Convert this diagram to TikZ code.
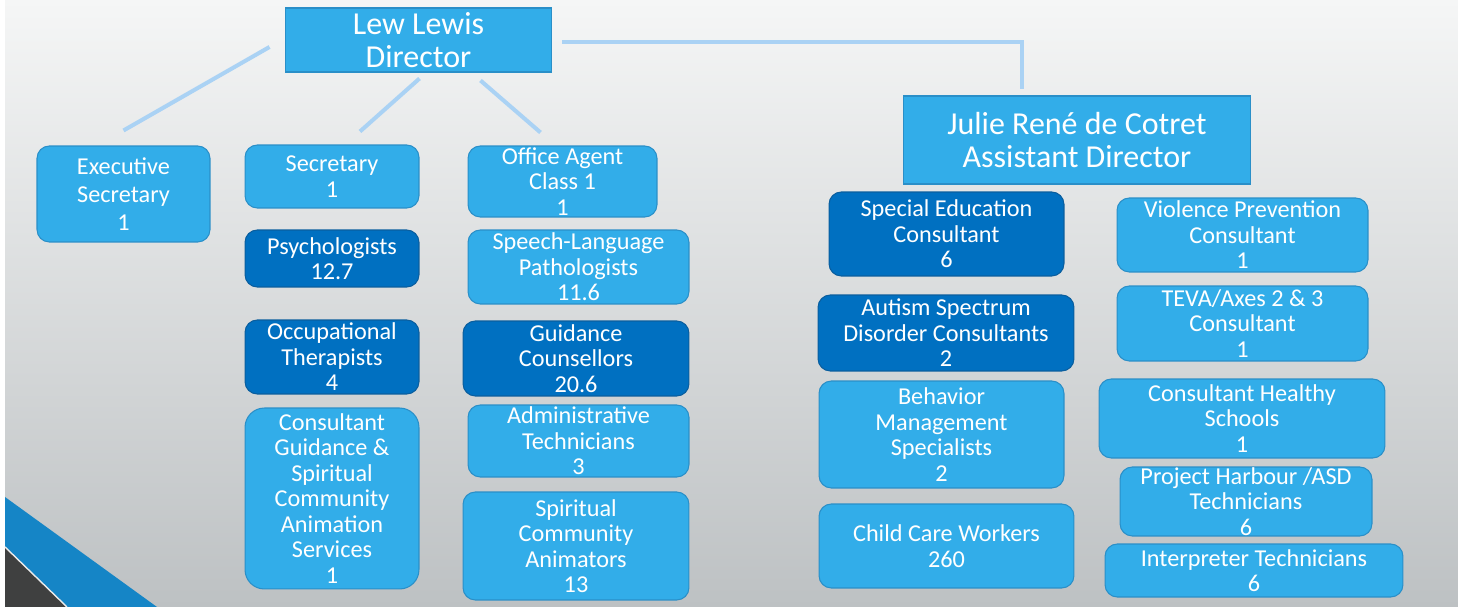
\documentclass[tikz,border=0pt]{standalone}
\usepackage{fontspec}
\setmainfont{Carlito}
\usetikzlibrary{calc}

\definecolor{boxblue}{HTML}{32ADE9}
\definecolor{boxdark}{HTML}{0070C1}
\definecolor{edgeblue}{HTML}{2A8FC8}
\definecolor{edgedark}{HTML}{0A5E9E}
\definecolor{linkblue}{HTML}{AAD2F4}
\definecolor{bgtop}{HTML}{F5F6F6}
\definecolor{bgbot}{HTML}{BDC1C3}
\definecolor{bandblue}{HTML}{1585C6}
\definecolor{cornergray}{HTML}{3F4040}

\tikzset{
    boxsize/.style 2 args = {minimum width=#1*0.569pt, minimum height=#2*0.569pt},
    staff/.style = {draw=edgeblue, fill=boxblue, text=white, rounded corners=7pt,
                    align=center, inner sep=0pt, line width=0.6pt,
                    font=\fontsize{13.8}{14.5}\selectfont},
    lead/.style  = {staff, fill=boxdark, draw=edgedark},
    head/.style  = {staff, rounded corners=0pt, font=\fontsize{18.2}{19.2}\selectfont},
    link/.style  = {draw=linkblue, line width=2.3pt},
}

\begin{document}
\begin{tikzpicture}[x=0.02cm, y=-0.02cm]
    \useasboundingbox (0,0) rectangle (1458,607);

    % Slide background
    \fill[white] (0,0) rectangle (1458,607);
    \shade[top color=bgtop, bottom color=bgbot] (5,0) rectangle (1458,607);
    \fill[bandblue] (5,497) -- (157,607) -- (5,607) -- cycle;
    \fill[cornergray] (5,547) -- (67,607) -- (5,607) -- cycle;
    \draw[white!85!gray, line width=0.8pt] (5,547) -- (67,607);

    % Heads
    \node[head, boxsize={267}{64}] (director) at (418.5,40)  {Lew Lewis\\Director};
    \node[head, boxsize={348}{88}] (assist)   at (1077,140)  {Julie René de Cotret\\Assistant Director};

    % Director's staff
    \node[staff, boxsize={173}{96}, font=\fontsize{13.8}{16}\selectfont]
                                     (exsec)     at (123.5,194)  {Executive\\Secretary\\1};
    \node[staff, boxsize={174}{63}]  (secr)      at (332,176.5)  {Secretary\\1};
    \node[lead,  boxsize={174}{57}]  (psych)     at (332,258.5)  {Psychologists\\12.7};
    \node[lead,  boxsize={174}{74}]  (occup)     at (332,357)    {Occupational\\Therapists\\4};
    \node[staff, boxsize={174}{181}, rounded corners=11pt]
                                     (cgsc)      at (332,498.5)  {Consultant\\Guidance \&\\Spiritual\\Community\\Animation\\Services\\1};
    \node[staff, boxsize={189}{71}]  (office)    at (562.5,181.5) {Office Agent\\Class 1\\1};
    \node[staff, boxsize={221}{74}]  (speech)    at (578.5,267)  {Speech-Language\\Pathologists\\11.6};
    \node[lead,  boxsize={226}{75}]  (guide)     at (576,358.5)  {Guidance\\Counsellors\\20.6};
    \node[staff, boxsize={221}{72}]  (admin)     at (578.5,441)  {Administrative\\Technicians\\3};
    \node[staff, boxsize={226}{108}] (animators) at (576,546)    {Spiritual\\Community\\Animators\\13};

    % Assistant director's staff
    \node[lead,  boxsize={235}{84}]  (speced)    at (946.5,234)  {Special Education\\Consultant\\6};
    \node[lead,  boxsize={256}{76}]  (autism)    at (946,333)    {Autism Spectrum\\Disorder Consultants\\2};
    \node[staff, boxsize={245}{107}] (behav)     at (941.5,434.5) {Behavior\\Management\\Specialists\\2};
    \node[staff, boxsize={255}{84}]  (childcare) at (946.5,546)  {Child Care Workers\\260};
    \node[staff, boxsize={251}{74}]  (violence)  at (1242.5,235) {Violence Prevention\\Consultant\\1};
    \node[staff, boxsize={251}{75}]  (teva)      at (1242.5,323.5) {TEVA/Axes 2 \& 3\\Consultant\\1};
    \node[staff, boxsize={286}{79}]  (healthy)   at (1242,418.5) {Consultant Healthy\\Schools\\1};
    \node[staff, boxsize={252}{69}]  (harbour)   at (1246,501.5) {Project Harbour /ASD\\Technicians\\6};
    \node[staff, boxsize={298}{53}]  (interp)    at (1254,570.5) {Interpreter Technicians\\6};

    % Connectors
    \draw[link] ($(director.west)+(-15,7)$)   -- ($(exsec.north)+(0,-15)$);
    \draw[link] ($(director.south)+(1,6)$)    -- ($(secr.north)+(28,-13)$);
    \draw[link] ($(director.south)+(62,8)$)   -- ($(office.north)+(-22,-13)$);
    \draw[link] ($(director.east)+(10,2)$)    -| ($(assist.north)+(-55,-6)$);
\end{tikzpicture}
\end{document}
